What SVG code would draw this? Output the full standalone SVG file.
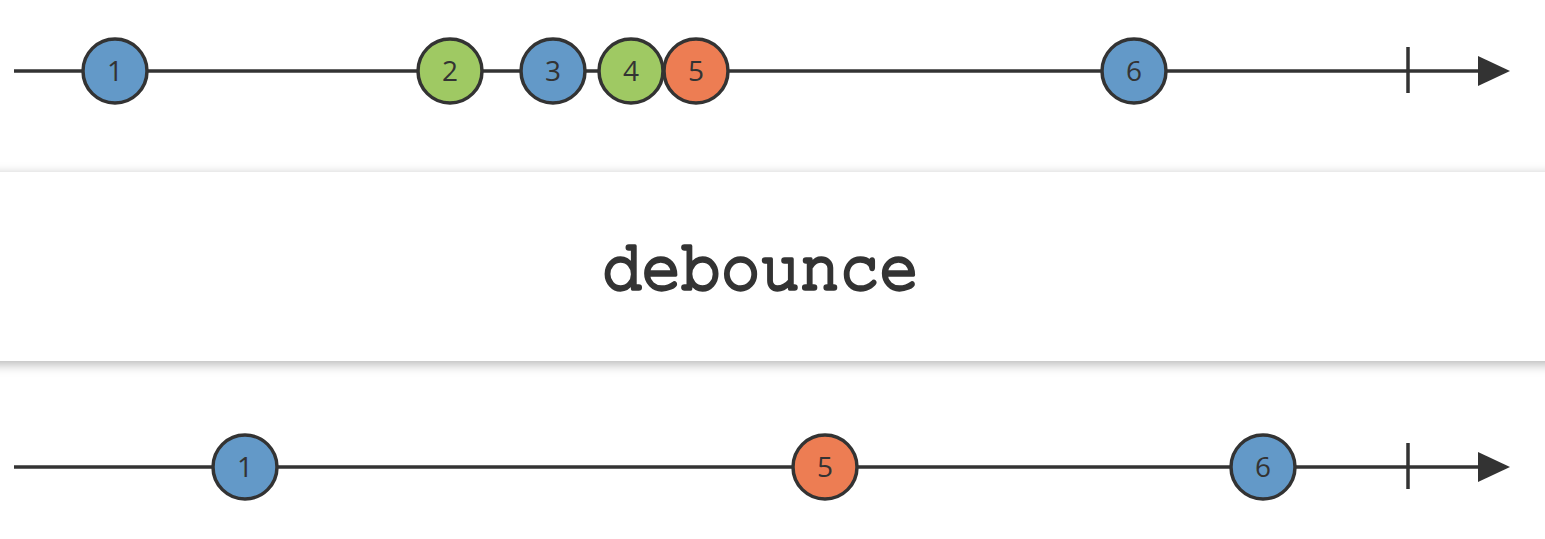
<svg xmlns="http://www.w3.org/2000/svg" width="1545" height="539" viewBox="0 0 1545 539">
  <defs>
    <style>
      .line { stroke: #333; stroke-width: 3.5; fill: none; }
      .marble { stroke: #333; stroke-width: 3.5; }
      .blue { fill: #6399c8; }
      .green { fill: #9fc963; }
      .orange { fill: #ed7d53; }
    </style>
    <marker id="arrow" viewBox="0 0 32 30" refX="0" refY="15" markerWidth="32" markerHeight="30" markerUnits="userSpaceOnUse" orient="auto">
      <path d="M0,0 L32,15 L0,30 Z" fill="#333"/>
    </marker>
    <filter id="shadow" x="-5%" y="-30%" width="110%" height="160%">
      <feDropShadow dx="0" dy="3" stdDeviation="6" flood-color="#000" flood-opacity="0.3"/>
    </filter>
  </defs>

  <rect width="1545" height="539" fill="#ffffff"/>

  <!-- timelines -->
  <g id="connectors">
    <line class="line" x1="14" y1="71" x2="1478" y2="71" marker-end="url(#arrow)"/>
    <line class="line" x1="1408" y1="47" x2="1408" y2="93"/>
    <line class="line" x1="14" y1="467" x2="1478" y2="467" marker-end="url(#arrow)"/>
    <line class="line" x1="1408" y1="443" x2="1408" y2="489"/>
  </g>

  <!-- operator box -->
  <g id="operator">
    <rect x="-20" y="172" width="1585" height="189" fill="#ffffff" filter="url(#shadow)"/>
    <text x="602" y="289" font-family="FreeMono, Liberation Mono, monospace" font-size="72" fill="#333" stroke="#333" stroke-width="3.4" stroke-linejoin="round" textLength="317" lengthAdjust="spacingAndGlyphs">debounce</text>
  </g>

  <!-- marbles; labels share one font setup -->
  <g font-family="Open Sans, Liberation Sans, sans-serif" font-size="28" fill="#333" text-anchor="middle">
    <!-- input marbles -->
    <g id="in-1"><circle class="marble blue" cx="115" cy="71" r="32"/><text x="115" y="81">1</text></g>
    <g id="in-2"><circle class="marble green" cx="450" cy="71" r="32"/><text x="450" y="81">2</text></g>
    <g id="in-3"><circle class="marble blue" cx="553" cy="71" r="32"/><text x="553" y="81">3</text></g>
    <g id="in-4"><circle class="marble green" cx="631" cy="71" r="32"/><text x="631" y="81">4</text></g>
    <g id="in-5"><circle class="marble orange" cx="696" cy="71" r="32"/><text x="696" y="81">5</text></g>
    <g id="in-6"><circle class="marble blue" cx="1134" cy="71" r="32"/><text x="1134" y="81">6</text></g>

    <!-- output marbles -->
    <g id="out-1"><circle class="marble blue" cx="245" cy="467" r="32"/><text x="245" y="477">1</text></g>
    <g id="out-5"><circle class="marble orange" cx="825" cy="467" r="32"/><text x="825" y="477">5</text></g>
    <g id="out-6"><circle class="marble blue" cx="1263" cy="467" r="32"/><text x="1263" y="477">6</text></g>
  </g>
</svg>
